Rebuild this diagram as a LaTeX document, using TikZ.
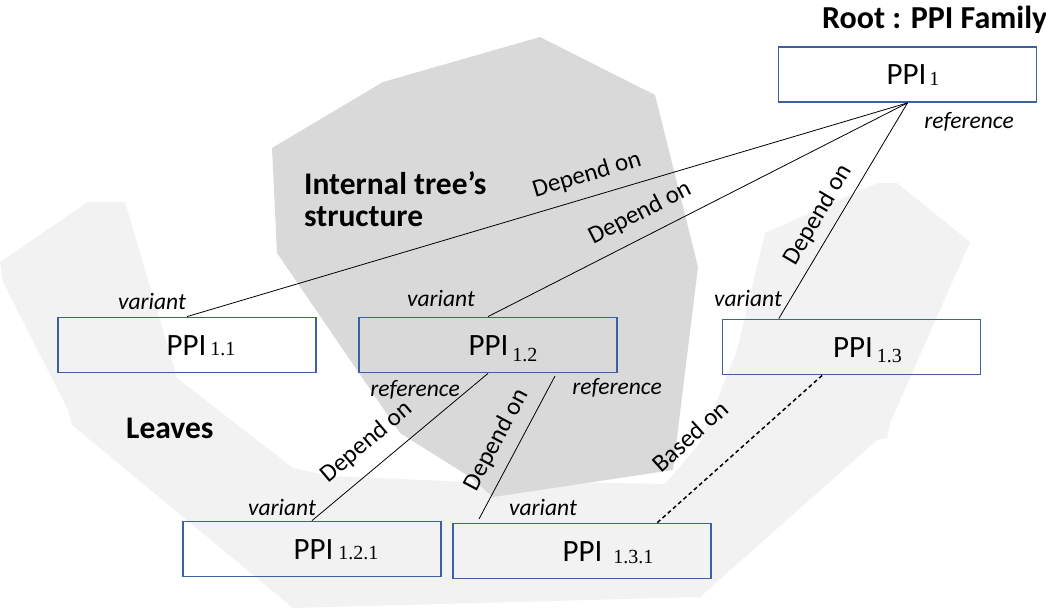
\documentclass[tikz,border=0pt]{standalone}
\usepackage{fontspec}
\setmainfont{Carlito}
\newfontfamily\tnr{Liberation Serif}
\usetikzlibrary{calc}
\definecolor{boxblue}{RGB}{60,96,160}
\definecolor{lightg}{RGB}{242,242,242}
\definecolor{darkg}{RGB}{217,217,217}
\newcommand\ppisub[2][0pt]{\raisebox{-#1}{\tnr\fontsize{20}{22}\selectfont #2}}
\begin{document}
\begin{tikzpicture}[x=1pt,y=-1pt,
  ppibox/.style={draw=boxblue, line width=1.8pt, minimum width=258pt, minimum height=55pt,
    inner sep=0pt, font=\fontsize{31}{36}\selectfont, text height=20pt, text depth=0pt},
  conn/.style={draw=black, line width=0.8pt},
  basedconn/.style={draw=black, line width=1.5pt, dash pattern=on 4pt off 3pt},
  rel/.style={font=\fontsize{25}{30}\selectfont, inner sep=0pt},
  role/.style={font=\itshape\fontsize{23.5}{28}\selectfont, inner sep=0pt},
  region/.style={font=\bfseries\fontsize{31.5}{36}\selectfont, inner sep=0pt, anchor=base west}
]
\useasboundingbox (0,0) rectangle (1046,608);

% background regions
\fill[lightg] (88,202) -- (125,202) -- (177,378) -- (293,468) -- (330,476) -- (470,482)
  -- (560,482) -- (665,484) -- (700,443) -- (737,350) -- (765,233) -- (878,183) -- (897,183)
  -- (970,242) -- (890,423) -- (887,438) -- (877,440) -- (700,597) -- (293,608)
  -- (72,425) -- (68,410) -- (3,282) -- (0,262) -- cycle;
\fill[darkg] (540,37) -- (655,95) -- (698,267) -- (673,470) -- (493,497) -- (470,477)
  -- (400,433) -- (277,253) -- (272,148) -- (383,82) -- cycle;

% region titles
\node[region, font=\bfseries\fontsize{32}{36}\selectfont] (root) at (822,28) {Root : PPI Family};
\node[region] (int1) at (304,194) {Internal tree’s};
\node[region] (int2) at (304,226) {structure};
\node[region] (leaves) at (126,438) {Leaves};

% boxes
\node[ppibox] (p1) at (907.5,74.5) {\hspace*{11pt}PPI\hspace{3pt}\ppisub[1pt]{1}};
\node[ppibox] (p11) at (187,345) {\hspace*{28pt}PPI\hspace{4pt}\ppisub{1.1}};
\node[ppibox] (p12) at (488,345) {\hspace*{30pt}PPI\hspace{4pt}\ppisub[6pt]{1.2}};
\node[ppibox] (p13) at (851.5,347) {\hspace*{32pt}PPI\hspace{4pt}\ppisub[5pt]{1.3}};
\node[ppibox] (p121) at (312,549) {\hspace*{48pt}PPI\hspace{5pt}\ppisub{1.2.1}};
\node[ppibox] (p131) at (582,551) {\hspace*{52pt}PPI\hspace{11pt}\ppisub[2pt]{1.3.1}};

% connector end points
\coordinate (p13top) at ($(p13.north west)!0.22!(p13.north east)$);
\coordinate (p13bot) at ($(p13.south west)!0.387!(p13.south east)$);
\coordinate (p131top) at ($(p131.north west)!0.79!(p131.north east)$);
\coordinate (e1) at (555,376);
\coordinate (e2) at (479,519);

% connectors
\draw[conn] (p11.north) -- (p1.south);
\draw[conn] (p12.north) -- (p1.south);
\draw[conn] (p13top) -- (p1.south);
\draw[conn] (p121.north) -- (p12.south);
\draw[conn] (e2) -- (e1);
\draw[basedconn] (p131top) -- (p13bot);

% connector labels
\node[rel, rotate=16.65] (dA) at (587,175) {Depend on};
\node[rel, rotate=27.2] (dB) at (640,213) {Depend on};
\node[rel, rotate=59.5] (dC) at (818,215) {Depend on};
\node[rel, rotate=40.25] (dD) at (367,442) {Depend on};
\node[rel, rotate=62] (dE) at (497,440) {Depend on};
\node[rel, rotate=41.9] (dF) at (690,436) {Based on};

% role labels
\node[role] (r1) at (969,122) {reference};
\node[role] (r12a) at (415,390) {reference};
\node[role] (r12b) at (617,388) {reference};
\node[role] (v11) at (152,301) {variant};
\node[role] (v12) at (441,298) {variant};
\node[role] (v13) at (748,298) {variant};
\node[role] (v121) at (282,507) {variant};
\node[role] (v131) at (543,507) {variant};
\end{tikzpicture}
\end{document}
